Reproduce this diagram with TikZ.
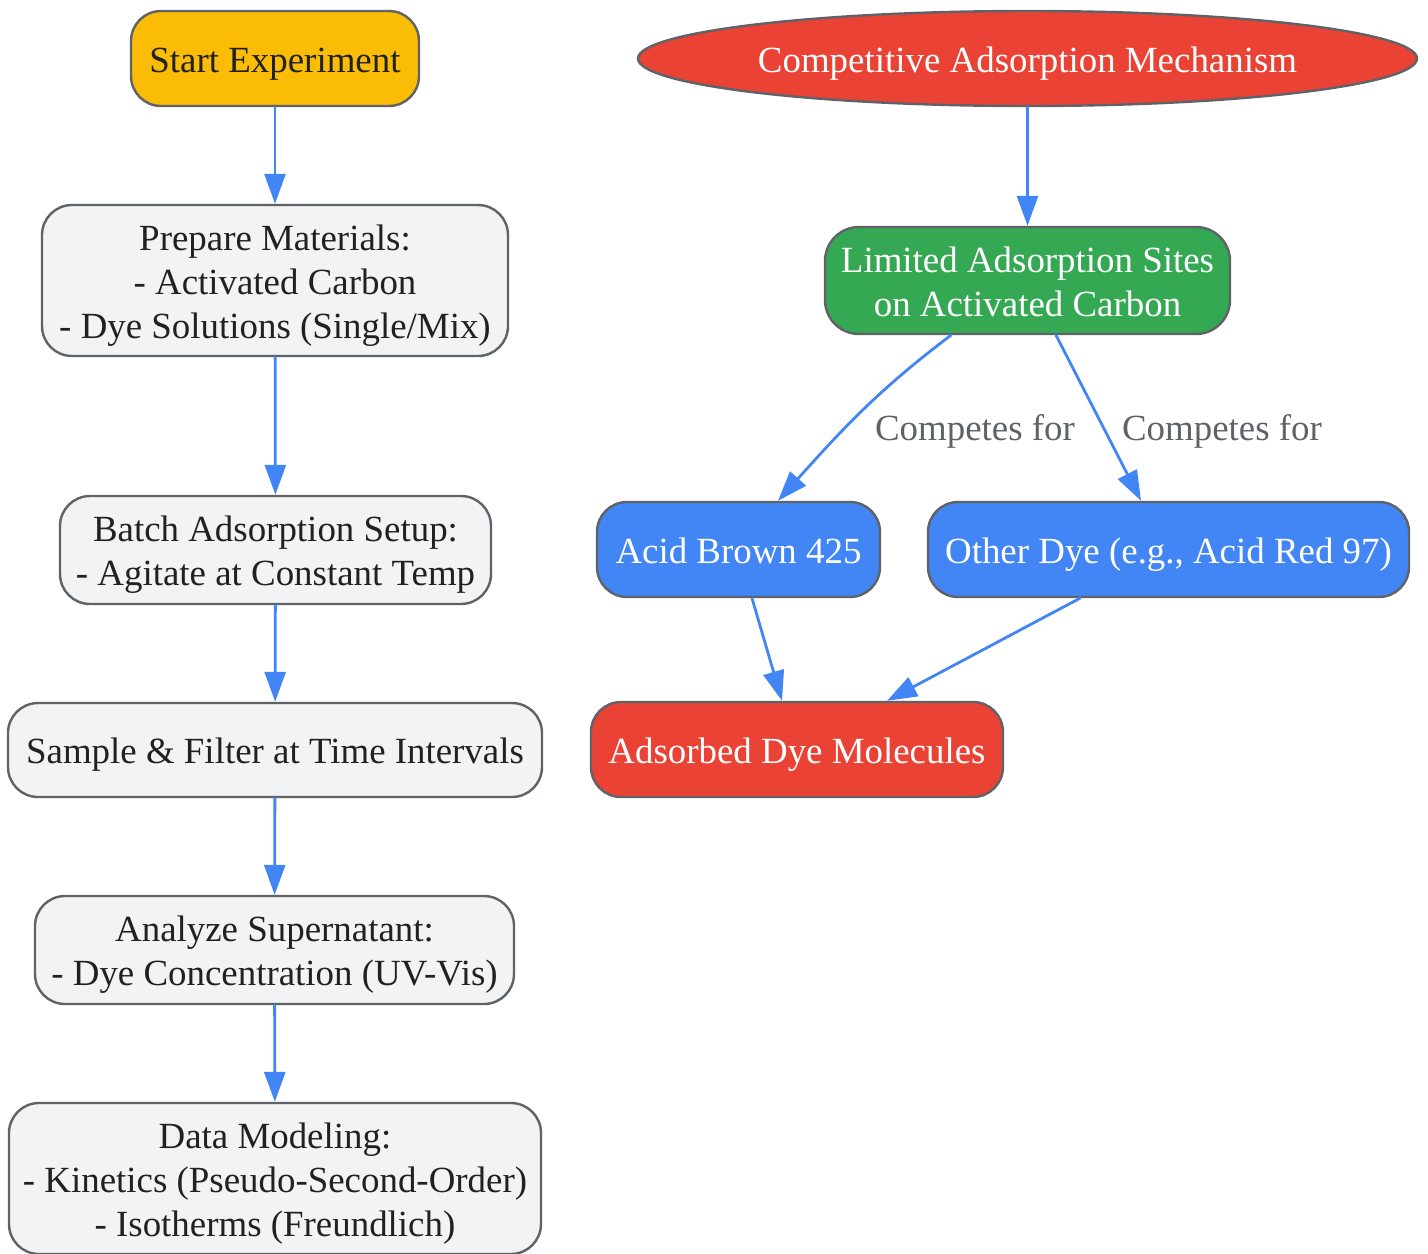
\documentclass[tikz,border=0pt]{standalone}
\usepackage{fontspec}
\setmainfont{Liberation Serif}
\usetikzlibrary{arrows.meta,shapes.geometric}
\definecolor{startyellow}{HTML}{FBBC05}
\definecolor{mechred}{HTML}{EA4335}
\definecolor{sitegreen}{HTML}{34A853}
\definecolor{dyeblue}{HTML}{4285F4}
\definecolor{paleback}{HTML}{F1F3F4}
\definecolor{rimgray}{HTML}{5F6368}
\definecolor{ink}{HTML}{202124}
% centred lines, placed by their struts rather than by their ink
\newcommand{\boxlines}[1]{\raisebox{-6.9pt}[0pt][0pt]{\begin{tabular}{@{}c@{}}#1\end{tabular}}}

\begin{document}
\begin{tikzpicture}[x=0.5pt,y=-0.5pt,line cap=round,line join=round,
    >={Triangle[length=15pt,width=10.5pt]},
    box/.style={draw=rimgray,line width=1.2pt,rounded corners=15pt,inner sep=0pt,
                font=\fontsize{18.45}{22}\selectfont,text=ink},
    flow/.style={box,fill=paleback},
    light/.style={box,text=white},
    arr/.style={->,draw=dyeblue,line width=1.4pt},
    lbl/.style={text=rimgray,font=\fontsize{18.45}{22}\selectfont,inner sep=0pt}]
    \useasboundingbox (0,0) rectangle (1428,1253);
    % experiment column
    \node[box,fill=startyellow,minimum width=144pt,minimum height=47.5pt] (start) at (275,58.5) {\boxlines{Start Experiment}};
    \node[flow,minimum width=233pt,minimum height=75.5pt] (prep) at (275,280.5) {\boxlines{Prepare Materials:\\- Activated Carbon\\- Dye Solutions (Single/Mix)}};
    \node[flow,minimum width=215.5pt,minimum height=54pt] (batch) at (275.5,550) {\boxlines{Batch Adsorption Setup:\\- Agitate at Constant Temp}};
    \node[flow,minimum width=267pt,minimum height=47pt] (sample) at (275,750) {\boxlines{Sample \& Filter at Time Intervals}};
    \node[flow,minimum width=239.5pt,minimum height=54pt] (analyze) at (274.5,950) {\boxlines{Analyze Supernatant:\\- Dye Concentration (UV-Vis)}};
    \node[flow,minimum width=266pt,minimum height=75.5pt] (model) at (275,1178.5) {\boxlines{Data Modeling:\\- Kinetics (Pseudo-Second-Order)\\- Isotherms (Freundlich)}};
    \draw[arr] (start) -- (prep);
    \draw[arr] (prep) -- (batch);
    \draw[arr] (batch) -- (sample);
    \draw[arr] (sample) -- (analyze);
    \draw[arr] (analyze) -- (model);
    % mechanism column
    \node[light,ellipse,rounded corners=0pt,fill=mechred,minimum width=389.5pt,minimum height=47.5pt] (mech) at (1027.5,58.5) {\boxlines{Competitive Adsorption Mechanism}};
    \node[light,fill=sitegreen,rounded corners=17pt,minimum width=202.5pt,minimum height=53.5pt] (sites) at (1027.5,280.5) {\boxlines{Limited Adsorption Sites\\on Activated Carbon}};
    \node[light,fill=dyeblue,minimum width=141.5pt,minimum height=47.5pt] (brown) at (738.5,549.5) {\boxlines{Acid Brown 425}};
    \node[light,fill=dyeblue,minimum width=240.5pt,minimum height=47.5pt] (other) at (1168.5,549.5) {\boxlines{Other Dye (e.g., Acid Red 97)}};
    \node[light,fill=mechred,minimum width=206pt,minimum height=47.5pt] (adsorbed) at (797,749.5) {\boxlines{Adsorbed Dye Molecules}};
    \node[lbl] (compA) at (975,431) {Competes for};
    \node[lbl] (compB) at (1222,431) {Competes for};
    \draw[arr] (mech) -- (sites);
    \draw[arr] ([xshift=-38.25pt]sites.south) to[out=-143,in=48] ([xshift=19.75pt]brown.north);
    \draw[arr] ([xshift=14.25pt]sites.south) -- ([xshift=-13.75pt]other.north);
    \draw[arr] ([xshift=6.75pt]brown.south) -- ([xshift=-7.5pt]adsorbed.north);
    \draw[arr] ([xshift=-44.25pt]other.south) -- ([xshift=45pt]adsorbed.north);
\end{tikzpicture}
\end{document}
